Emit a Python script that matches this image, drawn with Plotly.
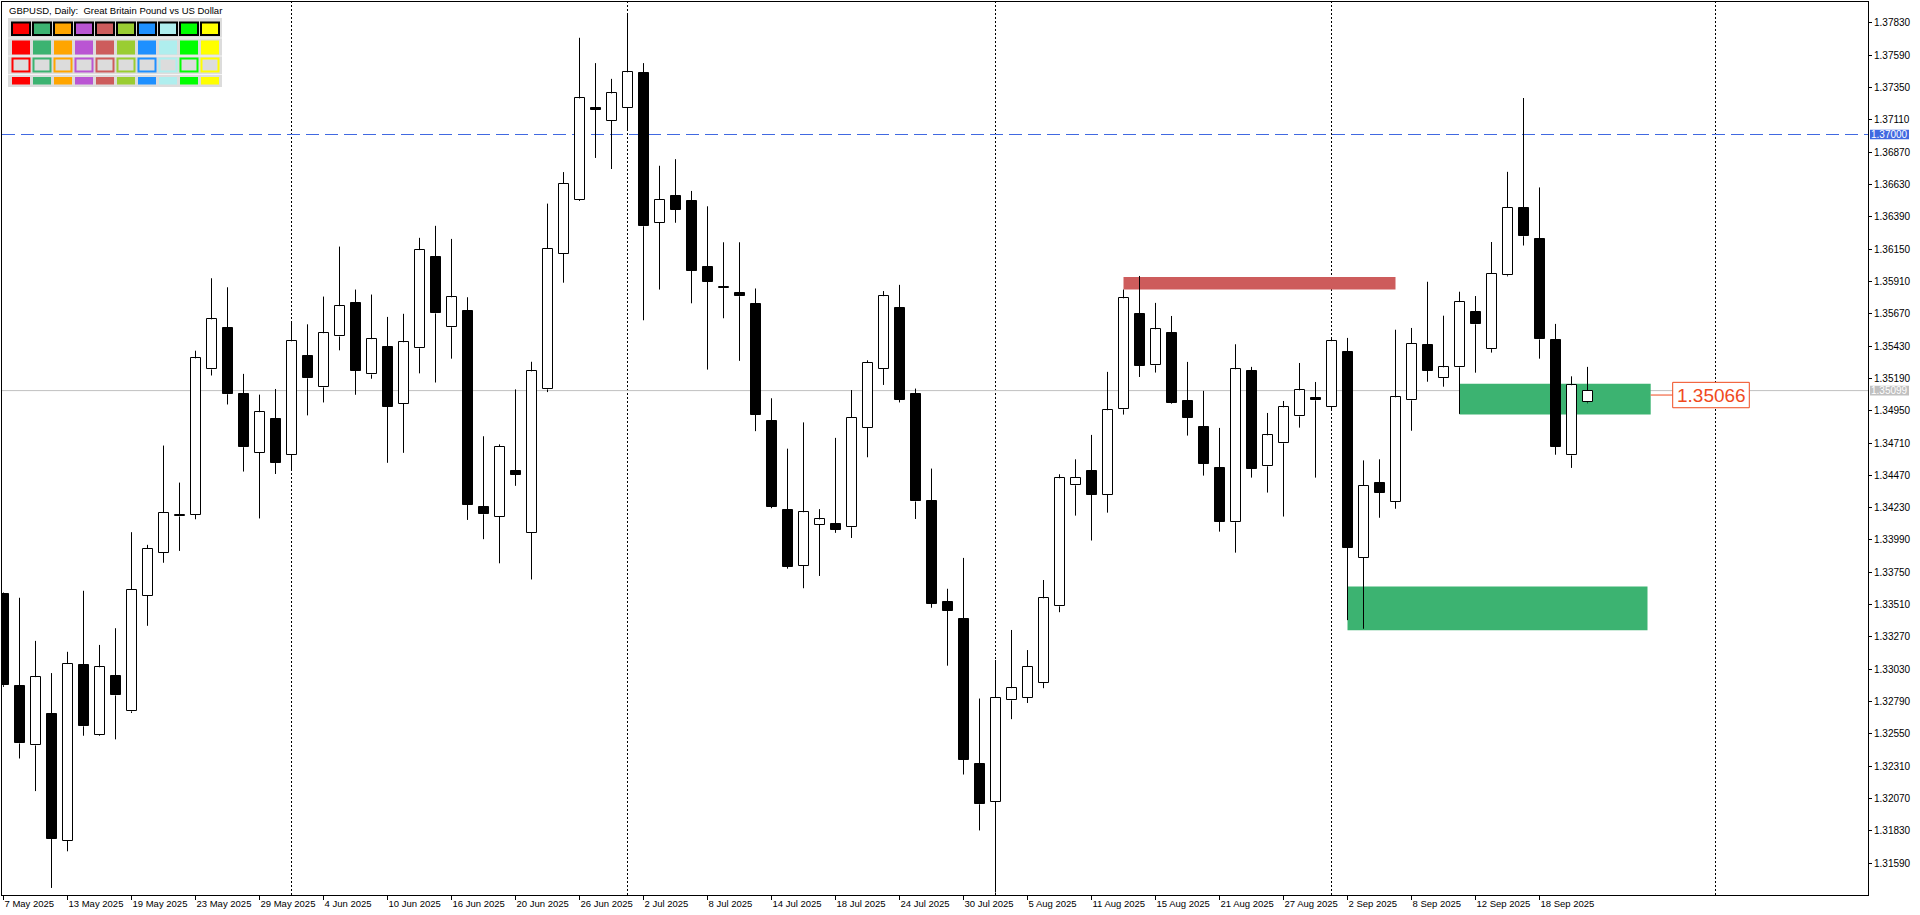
import pandas as pd
import plotly.graph_objects as go

# ---------------- data ----------------
DATES = pd.bdate_range("2025-05-07", "2025-09-23")  # one daily bar per weekday

OPEN = [1.33589, 1.32903, 1.32465, 1.32700, 1.31758, 1.33063, 1.32546, 1.32978, 1.32718, 1.33576,
        1.33897, 1.34165, 1.34178, 1.35256, 1.35561, 1.35075, 1.34637, 1.34891, 1.34622, 1.35353,
        1.35123, 1.35501, 1.35749, 1.35219, 1.35421, 1.35002, 1.35413, 1.36091, 1.35569, 1.35689,
        1.34233, 1.34161, 1.34503, 1.34045, 1.35108, 1.36114, 1.36516, 1.37200, 1.37103, 1.37200,
        1.37453, 1.36345, 1.36543, 1.36505, 1.36013, 1.35860, 1.35827, 1.35743, 1.34870, 1.34211,
        1.33800, 1.34104, 1.34112, 1.34085, 1.34825, 1.35259, 1.35712, 1.35072, 1.34280, 1.33533,
        1.33407, 1.32329, 1.32047, 1.32800, 1.32820, 1.32928, 1.33498, 1.34396, 1.34500, 1.34327,
        1.34960, 1.35668, 1.35287, 1.35527, 1.35022, 1.34829, 1.34525, 1.34122, 1.35245, 1.34537,
        1.34708, 1.34908, 1.35045, 1.34979, 1.35383, 1.33857, 1.34416, 1.34275, 1.35027, 1.35437,
        1.35192, 1.35272, 1.35681, 1.35407, 1.35955, 1.36455, 1.36226, 1.35474, 1.34618, 1.35011]
HIGH = [1.33600, 1.33561, 1.33241, 1.33002, 1.33160, 1.33613, 1.33211, 1.33335, 1.34048, 1.33954,
        1.34691, 1.34416, 1.35395, 1.35933, 1.35866, 1.35223, 1.35069, 1.35111, 1.35613, 1.35591,
        1.35797, 1.36168, 1.35849, 1.35812, 1.35646, 1.35669, 1.36233, 1.36322, 1.36225, 1.35792,
        1.34760, 1.34700, 1.35108, 1.35313, 1.36487, 1.36721, 1.37718, 1.37530, 1.37413, 1.37895,
        1.37530, 1.36768, 1.36817, 1.36581, 1.36467, 1.36200, 1.36200, 1.35857, 1.35042, 1.34668,
        1.34863, 1.34219, 1.34748, 1.35103, 1.35324, 1.35838, 1.35884, 1.35114, 1.34520, 1.33628,
        1.33857, 1.32813, 1.33099, 1.33322, 1.33173, 1.33693, 1.34478, 1.34589, 1.34770, 1.35238,
        1.35849, 1.35950, 1.35750, 1.35653, 1.35312, 1.35097, 1.34822, 1.35443, 1.35275, 1.34933,
        1.35022, 1.35304, 1.35163, 1.35497, 1.35490, 1.34581, 1.34589, 1.35551, 1.35564, 1.35907,
        1.35655, 1.35833, 1.35801, 1.36202, 1.36723, 1.37271, 1.36607, 1.35594, 1.35205, 1.35275]
LOW = [1.32900, 1.32368, 1.32126, 1.31407, 1.31679, 1.32537, 1.32537, 1.32510, 1.32706, 1.33353,
       1.33821, 1.33909, 1.34144, 1.35211, 1.34996, 1.34498, 1.34150, 1.34480, 1.34510, 1.34915,
       1.35011, 1.35398, 1.35068, 1.35187, 1.34563, 1.34637, 1.35227, 1.35159, 1.35336, 1.34139,
       1.33996, 1.33817, 1.34392, 1.33697, 1.35088, 1.35900, 1.36507, 1.36826, 1.36744, 1.37029,
       1.35621, 1.35849, 1.36345, 1.35747, 1.35255, 1.35636, 1.35320, 1.34798, 1.34226, 1.33777,
       1.33632, 1.33723, 1.34043, 1.34005, 1.34604, 1.35141, 1.35011, 1.34146, 1.33487, 1.33057,
       1.32249, 1.31834, 1.31373, 1.32660, 1.32780, 1.32890, 1.33454, 1.34171, 1.33986, 1.34193,
       1.34921, 1.35200, 1.35233, 1.35002, 1.34765, 1.34468, 1.34052, 1.33896, 1.34453, 1.34342,
       1.34164, 1.34824, 1.34453, 1.34960, 1.33395, 1.33331, 1.34155, 1.34222, 1.34801, 1.35165,
       1.35128, 1.34926, 1.35232, 1.35381, 1.35947, 1.36176, 1.35336, 1.34623, 1.34525, 1.35005]
CLOSE = [1.32912, 1.32480, 1.32972, 1.31770, 1.33069, 1.32607, 1.33045, 1.32836, 1.33622, 1.33924,
         1.34190, 1.34175, 1.35338, 1.35628, 1.35072, 1.34679, 1.34939, 1.34561, 1.35465, 1.35190,
         1.35525, 1.35726, 1.35247, 1.35481, 1.34979, 1.35458, 1.36142, 1.35672, 1.35792, 1.34250,
         1.34181, 1.34683, 1.34475, 1.35242, 1.36151, 1.36635, 1.37268, 1.37185, 1.37305, 1.37462,
         1.36319, 1.36516, 1.36440, 1.35987, 1.35907, 1.35870, 1.35800, 1.34920, 1.34238, 1.33792,
         1.34196, 1.34143, 1.34066, 1.34897, 1.35305, 1.35800, 1.35030, 1.34276, 1.33518, 1.33464,
         1.32359, 1.32028, 1.32817, 1.32890, 1.33047, 1.33557, 1.34448, 1.34453, 1.34327, 1.34953,
         1.35784, 1.35285, 1.35554, 1.35010, 1.34899, 1.34557, 1.34127, 1.35257, 1.34520, 1.34767,
         1.34975, 1.35101, 1.35027, 1.35466, 1.33932, 1.34394, 1.34341, 1.35049, 1.35445, 1.35248,
         1.35272, 1.35756, 1.35591, 1.35966, 1.36455, 1.36245, 1.35479, 1.34684, 1.35139, 1.35099]

TICK_LABELS = ["7 May 2025", "13 May 2025", "19 May 2025", "23 May 2025", "29 May 2025",
               "4 Jun 2025", "10 Jun 2025", "16 Jun 2025", "20 Jun 2025", "26 Jun 2025",
               "2 Jul 2025", "8 Jul 2025", "14 Jul 2025", "18 Jul 2025", "24 Jul 2025",
               "30 Jul 2025", "5 Aug 2025", "11 Aug 2025", "15 Aug 2025", "21 Aug 2025",
               "27 Aug 2025", "2 Sep 2025", "8 Sep 2025", "12 Sep 2025", "18 Sep 2025"]
Y_TICKS = [1.31590, 1.31830, 1.32070, 1.32310, 1.32550, 1.32790, 1.33030, 1.33270, 1.33510,
           1.33750, 1.33990, 1.34230, 1.34470, 1.34710, 1.34950, 1.35190, 1.35430, 1.35670,
           1.35910, 1.36150, 1.36390, 1.36630, 1.36870, 1.37110, 1.37350, 1.37590, 1.37830]

BID = 1.35099
LEVEL = 1.37000
FUTURE_SEPARATOR = "2025-10-01"

# zones: start date, end (bars after last bar), low, high, colour
ZONE_START = ["2025-08-13", "2025-09-02", "2025-09-11"]
ZONE_END_AHEAD = [-12.0, 3.75, 3.95]
ZONE_LOW = [1.35849, 1.33320, 1.34921]
ZONE_HIGH = [1.35943, 1.33645, 1.35150]
ZONE_COLOR = ["#CD5C5C", "#3CB371", "#3CB371"]
ZONE_LABEL_PRICE = 1.35066
ZONE_LABEL_TEXT = "1.35066"

PALETTE = ["#FF0000", "#3CB371", "#FFA500", "#BA55D3", "#CD5C5C",
           "#9ACD32", "#1E90FF", "#AFEEEE", "#00FF00", "#FFFF00"]
TITLE = "GBPUSD, Daily:\u00a0 Great Britain Pound vs US Dollar"

# ---------------- geometry ----------------
W, H = 1920, 915
PL, PR, PT, PB = 2, 1868, 2, 895          # plot area in pixels
BAR_PX = 16.0
X0_PX = 3.5                                # pixel of bar 0 centre
Y_TOP, Y_BOT = 1.3798366, 1.3135468
PX_PER_PRICE = (PB - PT) / (Y_TOP - Y_BOT)
FONT = "Liberation Sans"

n = len(DATES)
pos = {d.strftime("%Y-%m-%d"): i for i, d in enumerate(DATES)}
xs = list(range(n))
x_lo = (PL - X0_PX) / BAR_PX
x_hi = (PR - X0_PX) / BAR_PX


def px_to_x(px):
    return (px - X0_PX) / BAR_PX


def paper_x(px):
    return (px - PL) / (PR - PL)


def paper_y(py):
    return 1 - (py - PT) / (PB - PT)


def dp(pixels):
    return pixels / PX_PER_PRICE


# ---------------- candles ----------------
bull = [i for i in xs if CLOSE[i] >= OPEN[i]]
bear = [i for i in xs if CLOSE[i] < OPEN[i]]
wx, wy = [], []
for i in xs:
    top, bot = max(OPEN[i], CLOSE[i]), min(OPEN[i], CLOSE[i])
    wx += [i, i, None, i, i, None]
    wy += [HIGH[i], top, None, bot, LOW[i], None]

fig = go.Figure()
fig.add_trace(go.Scatter(x=wx, y=wy, mode="lines", line=dict(color="black", width=1),
                         hoverinfo="skip", showlegend=False))
fig.add_trace(go.Bar(x=bull, base=[OPEN[i] for i in bull], y=[CLOSE[i] - OPEN[i] for i in bull],
                     width=0.625, marker=dict(color="white", line=dict(color="black", width=1)),
                     showlegend=False, hoverinfo="skip"))
fig.add_trace(go.Bar(x=bear, base=[CLOSE[i] for i in bear], y=[OPEN[i] - CLOSE[i] for i in bear],
                     width=0.625, marker=dict(color="black", line=dict(color="black", width=1)),
                     showlegend=False, hoverinfo="skip"))

shapes = []
# zones (background)
for s, e, lo, hi, c in zip(ZONE_START, ZONE_END_AHEAD, ZONE_LOW, ZONE_HIGH, ZONE_COLOR):
    x_end = (n - 1) + e
    shapes.append(dict(type="rect", xref="x", yref="y", x0=pos[s], x1=x_end, y0=lo, y1=hi,
                       fillcolor=c, line=dict(width=0), layer="below"))
# period separators
seps = [i for i in range(1, n) if DATES[i].month != DATES[i - 1].month]
seps.append((n - 1) + (pd.Timestamp(FUTURE_SEPARATOR) - DATES[-1]).days)
for sx in seps:
    shapes.append(dict(type="line", xref="x", yref="paper", x0=sx, x1=sx, y0=0, y1=1,
                       line=dict(color="black", width=1, dash="2px,2px"), layer="below"))
# horizontal level & bid line
shapes.append(dict(type="line", xref="paper", yref="y", x0=0, x1=1, y0=LEVEL, y1=LEVEL,
                   line=dict(color="#4169E1", width=1, dash="13px,6px"), layer="below"))
shapes.append(dict(type="line", xref="paper", yref="y", x0=0, x1=1, y0=BID, y1=BID,
                   line=dict(color="#C0C0C0", width=1), layer="below"))

# zone price label
lab_x0, lab_x1 = px_to_x(1672.7), px_to_x(1749.3)
zone_end = (n - 1) + ZONE_END_AHEAD[2]
shapes.append(dict(type="line", xref="x", yref="y", x0=zone_end, x1=lab_x0,
                   y0=ZONE_LABEL_PRICE, y1=ZONE_LABEL_PRICE, line=dict(color="#F04A1E", width=1)))
shapes.append(dict(type="rect", xref="x", yref="y", x0=lab_x0, x1=lab_x1,
                   y0=ZONE_LABEL_PRICE - dp(12.7), y1=ZONE_LABEL_PRICE + dp(12.7),
                   fillcolor="white", line=dict(color="#F04A1E", width=1)))

# axis price tags
for price, col in [(LEVEL, "#4169E1"), (BID, "#C0C0C0")]:
    shapes.append(dict(type="rect", xref="paper", yref="y", x0=paper_x(1870), x1=paper_x(1909),
                       y0=price - dp(4.8), y1=price + dp(4.8), fillcolor=col, line=dict(width=0)))

# colour palette panel
shapes.append(dict(type="rect", xref="paper", yref="paper", x0=paper_x(8), x1=paper_x(222),
                   y0=paper_y(87), y1=paper_y(18), fillcolor="#DCDCDC", line=dict(width=0)))
for yy in (38, 56, 74.5):
    shapes.append(dict(type="line", xref="paper", yref="paper", x0=paper_x(8), x1=paper_x(222),
                       y0=paper_y(yy), y1=paper_y(yy), line=dict(color="#F4F4F4", width=1)))
for k, c in enumerate(PALETTE):
    bx0 = 12 + 21 * k
    bx1 = bx0 + 18
    shapes.append(dict(type="rect", xref="paper", yref="paper", x0=paper_x(bx0), x1=paper_x(bx1),
                       y0=paper_y(35), y1=paper_y(22.5), fillcolor=c,
                       line=dict(color="black", width=2)))
    shapes.append(dict(type="rect", xref="paper", yref="paper", x0=paper_x(bx0), x1=paper_x(bx1),
                       y0=paper_y(54.5), y1=paper_y(40.5), fillcolor=c, line=dict(width=0)))
    shapes.append(dict(type="rect", xref="paper", yref="paper", x0=paper_x(bx0 + 0.5), x1=paper_x(bx1 - 0.5),
                       y0=paper_y(71.5), y1=paper_y(58.5), fillcolor="#DCDCDC",
                       line=dict(color=c, width=2)))
    shapes.append(dict(type="rect", xref="paper", yref="paper", x0=paper_x(bx0), x1=paper_x(bx1),
                       y0=paper_y(84.5), y1=paper_y(77), fillcolor=c, line=dict(width=0)))

annotations = [
    dict(text=TITLE, xref="paper", yref="paper", x=paper_x(7), y=paper_y(10), xanchor="left",
         yanchor="middle", showarrow=False, font=dict(family=FONT, size=9.5, color="black")),
    dict(text=ZONE_LABEL_TEXT, xref="x", yref="y", x=(lab_x0 + lab_x1) / 2, y=ZONE_LABEL_PRICE,
         xanchor="center", yanchor="middle", showarrow=False,
         font=dict(family=FONT, size=19, color="#F04A1E")),
]
for price in (LEVEL, BID):
    annotations.append(dict(text=f"{price:.5f}", xref="paper", yref="y", x=paper_x(1889.5), y=price,
                            xanchor="center", yanchor="middle", showarrow=False,
                            font=dict(family=FONT, size=10, color="white")))

tick_pos = [pos[pd.Timestamp(t).strftime("%Y-%m-%d")] for t in TICK_LABELS]

fig.update_layout(
    width=W, height=H, autosize=False,
    margin=dict(l=PL, r=W - PR, t=PT, b=H - PB, pad=0),
    paper_bgcolor="white", plot_bgcolor="white",
    barmode="overlay", bargap=0, showlegend=False,
    shapes=shapes, annotations=annotations,
    font=dict(family=FONT, size=10, color="black"),
    xaxis=dict(range=[x_lo, x_hi], tickmode="array", tickvals=tick_pos, ticktext=TICK_LABELS,
               ticks="outside", ticklen=4, tickcolor="black", tickwidth=1,
               ticklabelposition="outside right", showgrid=False, zeroline=False,
               showline=True, linecolor="black", linewidth=1, mirror=True,
               tickfont=dict(family=FONT, size=9.5, color="black"), fixedrange=True),
    yaxis=dict(range=[Y_BOT, Y_TOP], side="right", tickmode="array", tickvals=Y_TICKS,
               tickformat=".5f", ticks="outside", ticklen=3, tickcolor="black", tickwidth=1,
               showgrid=False, zeroline=False, showline=True, linecolor="black", linewidth=1,
               mirror=True, tickfont=dict(family=FONT, size=10, color="black"), fixedrange=True),
)

fig.write_html("out.html", config={"displayModeBar": False},
               post_script="document.body.style.margin='0';document.body.style.overflow='hidden';")
